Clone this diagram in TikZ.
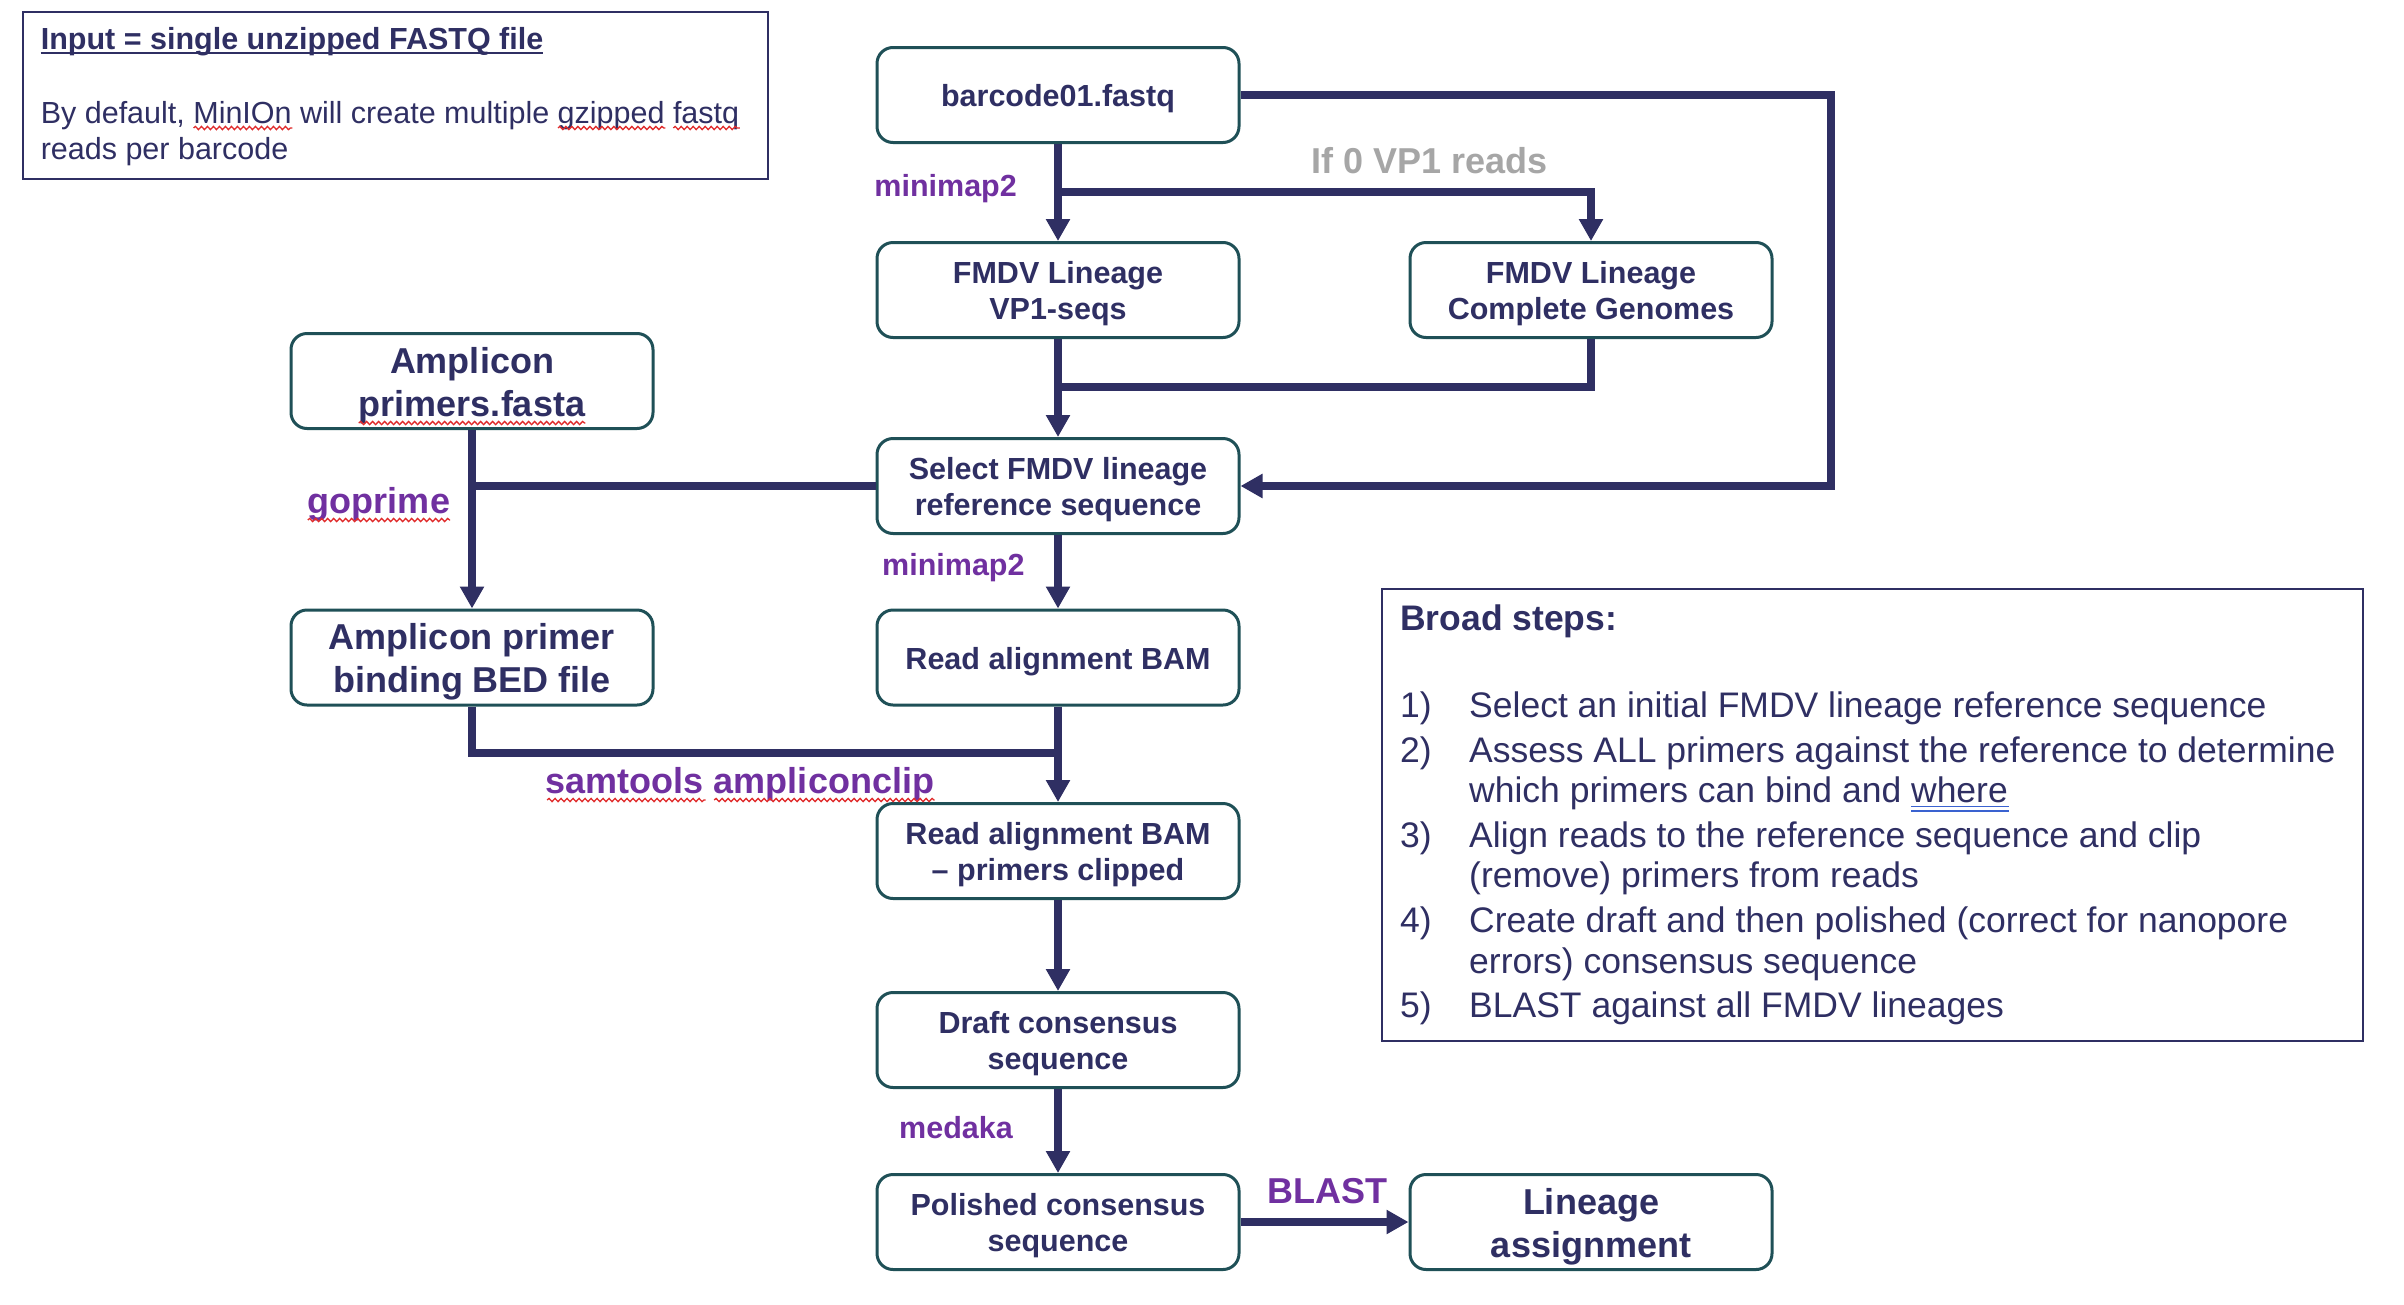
\documentclass[tikz,border=0pt]{standalone}
\usepackage{fontspec}
\setmainfont{Liberation Sans}
\usetikzlibrary{arrows.meta,decorations.pathmorphing,calc}
\definecolor{navy}{HTML}{2F2F63}
\definecolor{boxteal}{HTML}{1F5057}
\definecolor{lblpurple}{HTML}{7030A0}
\definecolor{ifgray}{HTML}{A6A6A6}
\definecolor{spellred}{HTML}{E02A2A}
\definecolor{gramblue}{HTML}{3A62D0}
\newcommand\fA{\fontsize{30.5}{36.6}\selectfont}
\newcommand\fB{\fontsize{36}{43}\selectfont}
\newcommand\fC{\fontsize{35.5}{42.6}\selectfont}
\newcommand\tp{\rule{0pt}{0.97em}}
% #1 line node, #2 font, #3 prefix, #4 word, #5 drop, #6 id
\newcommand\wavyunder[6]{%
  \node[inner sep=0pt, anchor=base west, font=#2] (#6p) at (#1.base west) {\phantom{#3}};
  \node[inner sep=0pt, anchor=base west, font=#2] (#6w) at (#6p.base east) {\phantom{#4}};
  \draw[wavy] ([yshift=-#5]#6w.base west) -- ([yshift=-#5]#6w.base east);}
\begin{document}
\begin{tikzpicture}[x=1pt,y=-1pt,
  box/.style={draw=boxteal, line width=3pt, rounded corners=16pt, minimum width=362pt, minimum height=95pt, align=center, text=navy, font=\fA\bfseries, inner sep=0pt, fill=white},
  bigbox/.style={box, font=\fB\bfseries},
  conn/.style={draw=navy, line width=7.5pt},
  arr/.style={conn, -{Triangle[width=23pt,length=22pt]}},
  lbl/.style={text=lblpurple, font=\fA\bfseries, inner sep=0pt},
  biglbl/.style={lbl, font=\fB\bfseries},
  txt/.style={text=navy, inner sep=0pt, anchor=base west},
  wavy/.style={draw=spellred, line width=1.3pt, decorate, decoration={snake, amplitude=1.6pt, segment length=6pt}},
  frame/.style={draw=navy, line width=2pt, inner sep=0pt, anchor=north west}]
\fill[white] (0,0) rectangle (2404,1304);
\useasboundingbox (0,0) rectangle (2404,1304);

% info box
\node[frame, minimum width=745pt, minimum height=167pt] (inbox) at (21.5,11) {};
\node[txt, font=\fA\bfseries] (in1) at (40.6,49) {Input = single unzipped FASTQ file};
\draw[navy, line width=2.6pt] ([yshift=-4pt]in1.base west) -- ([yshift=-4pt]in1.base east);
\node[txt, font=\fA] (in2) at (40.6,123) {By default, MinIOn will create multiple gzipped fastq};
\node[txt, font=\fA] (in3) at (40.6,159) {reads per barcode};
\wavyunder{in2}{\fA}{By default,\ }{MinIOn}{5pt}{wa}
\wavyunder{in2}{\fA}{By default, MinIOn will create multiple\ }{gzipped}{5pt}{wb}
\wavyunder{in2}{\fA}{By default, MinIOn will create multiple gzipped\ }{fastq}{5pt}{wc}

% flow boxes
\node[box] (barcode) at (1058,95) {\tp barcode01.fastq};
\node[box] (vp1) at (1058,290) {\tp FMDV Lineage\\VP1-seqs};
\node[box] (genomes) at (1591,290) {\tp FMDV Lineage\\Complete Genomes};
\node[box] (select) at (1058,486) {\tp Select FMDV lineage\\reference sequence};
\node[box] (bam) at (1058,657.5) {\tp Read alignment BAM};
\node[box] (clipped) at (1058,851) {\tp Read alignment BAM\\-- primers clipped};
\node[box] (draft) at (1058,1040) {\tp Draft consensus\\sequence};
\node[box] (polished) at (1058,1222) {\tp Polished consensus\\sequence};
\node[bigbox] (lineage) at (1591,1222) {\tp Lineage\\assignment};
\node[bigbox] (fasta) at (472,381) {\tp Amplicon\\primers.fasta};
\node[bigbox] (bed) at (472,657.5) {\tp Amplicon primer\\binding BED file};
\node[inner sep=0pt, anchor=base, font=\fB\bfseries] (pfw) at (472,416) {\phantom{primers.fasta}};
\draw[wavy] ([yshift=-7pt]pfw.base west) -- ([yshift=-7pt]pfw.base east);

% connectors
\coordinate (j0) at (1058,192);
\coordinate (j1) at (1058,387);
\coordinate (j2) at (1058,753);
\coordinate (lp) at (1831,95);
\draw[arr] (barcode.south) -- (vp1.north);
\draw[arr] (j0) -| (genomes.north);
\draw[arr] (barcode.east) -- (lp) |- (select.east);
\draw[arr] (vp1.south) -- (select.north);
\draw[conn] (genomes.south) |- (j1);
\draw[arr] (fasta.south) -- (bed.north);
\draw[conn] (select.west) -- (select.west -| fasta.south);
\draw[arr] (select.south) -- (bam.north);
\draw[arr] (bam.south) -- (clipped.north);
\draw[conn] (bed.south) |- (j2);
\draw[arr] (clipped.south) -- (draft.north);
\draw[arr] (draft.south) -- (polished.north);
\draw[arr] (polished.east) -- (lineage.west);

% labels
\node[lbl, anchor=base east] (mm1) at (1017,196) {minimap2};
\node[biglbl, text=ifgray, anchor=base west] (if0) at (1311,173) {If 0 VP1 reads};
\node[biglbl, anchor=base] (gop) at (379,513) {goprime};
\draw[wavy] ([yshift=-7pt]gop.base west) -- ([yshift=-7pt]gop.base east);
\node[lbl, anchor=base west] (mm2) at (882,575) {minimap2};
\node[biglbl, anchor=base] (amp) at (740,793) {samtools ampliconclip};
\wavyunder{amp}{\fB\bfseries}{}{samtools}{7pt}{wd}
\wavyunder{amp}{\fB\bfseries}{samtools\ }{ampliconclip}{7pt}{we}
\node[lbl, anchor=base west] (med) at (899,1138) {medaka};
\node[biglbl, anchor=base] (blast) at (1327,1203) {BLAST};

% broad steps box
\node[frame, minimum width=981pt, minimum height=452pt] (steps) at (1381,588) {};
\node[txt, font=\fC\bfseries] (bs) at (1400,630) {Broad steps:};
\node[txt, font=\fC] (n1) at (1400,717) {1)};
\node[txt, font=\fC] (s1) at (1469,717) {Select an initial FMDV lineage reference sequence};
\node[txt, font=\fC] (n2) at (1400,762) {2)};
\node[txt, font=\fC] (s2a) at (1469,762) {Assess ALL primers against the reference to determine};
\node[txt, font=\fC] (s2b) at (1469,802) {which primers can bind and where};
\node[txt, font=\fC] (n3) at (1400,847) {3)};
\node[txt, font=\fC] (s3a) at (1469,847) {Align reads to the reference sequence and clip};
\node[txt, font=\fC] (s3b) at (1469,887) {(remove) primers from reads};
\node[txt, font=\fC] (n4) at (1400,932) {4)};
\node[txt, font=\fC] (s4a) at (1469,932) {Create draft and then polished (correct for nanopore};
\node[txt, font=\fC] (s4b) at (1469,973) {errors) consensus sequence};
\node[txt, font=\fC] (n5) at (1400,1017) {5)};
\node[txt, font=\fC] (s5) at (1469,1017) {BLAST against all FMDV lineages};
\node[inner sep=0pt, anchor=base west, font=\fC] (whp) at (s2b.base west) {\phantom{which primers can bind and\ }};
\node[inner sep=0pt, anchor=base west, font=\fC] (whw) at (whp.base east) {\phantom{where}};
\draw[gramblue, line width=1.4pt] ([yshift=-4.5pt]whw.base west) -- ([yshift=-4.5pt]whw.base east);
\draw[gramblue, line width=1.4pt] ([yshift=-9pt]whw.base west) -- ([yshift=-9pt]whw.base east);
\end{tikzpicture}
\end{document}
